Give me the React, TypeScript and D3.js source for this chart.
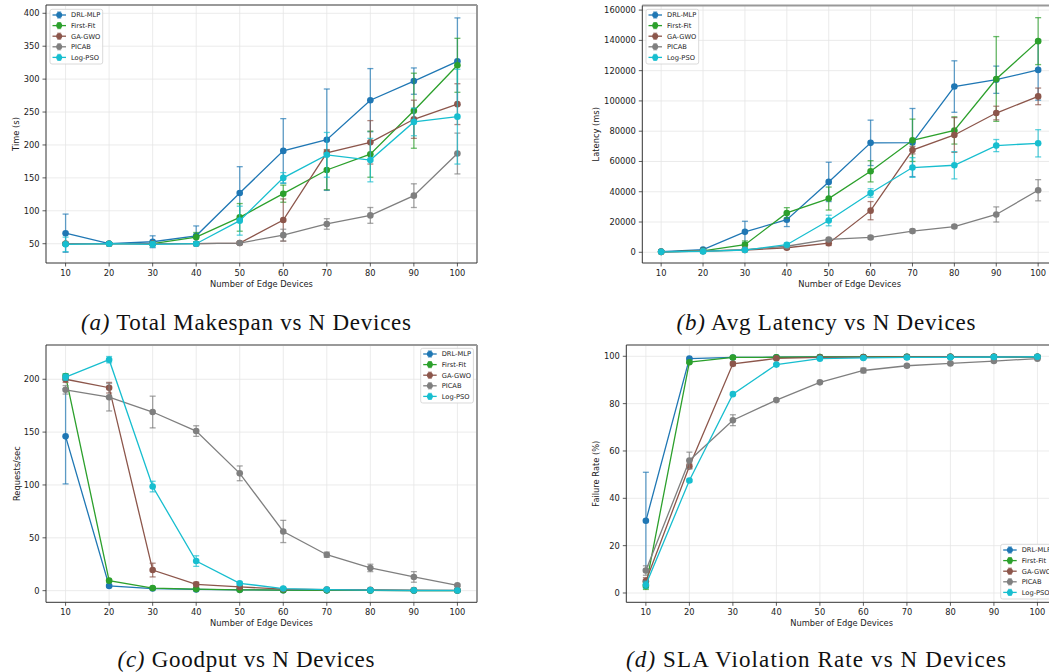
import React from "react";
import * as d3 from "d3";

const devices = [10, 20, 30, 40, 50, 60, 70, 80, 90, 100];
const seriesNames = ["DRL-MLP", "First-Fit", "GA-GWO", "PICAB", "Log-PSO"];
const seriesColors = ["#1f77b4", "#2ca02c", "#8c564b", "#7f7f7f", "#17becf"];

// (a) Total makespan (s)
const makespanMean = [
  [66, 50, 53, 62, 127, 191, 208, 268, 297, 327],
  [50, 50, 50, 60, 90, 126, 162, 186, 252, 321],
  [50, 50, 50, 50, 51, 86, 188, 204, 239, 262],
  [50, 50, 50, 50, 51, 63, 80, 93, 123, 187],
  [49, 50, 49, 50, 85, 150, 185, 177, 235, 243],
];
const makespanErr = [
  [29, 1, 9, 15, 40, 49, 77, 48, 20, 66],
  [1, 0.5, 2, 7, 21, 13, 30, 35, 57, 41],
  [1, 0.5, 1, 1, 2, 32, 5, 33, 29, 31],
  [1, 0.5, 1, 1, 2, 9, 8, 12, 18, 31],
  [11, 1, 4, 2, 22, 8, 34, 33, 21, 72],
];

// (b) Avg latency (ms)
const latencyMean = [
  [500, 1800, 13500, 21500, 46500, 72300, 72500, 109500, 114000, 120500],
  [300, 1000, 5000, 26000, 35500, 53500, 74000, 80500, 114500, 139500],
  [300, 800, 1500, 3000, 6000, 27500, 67500, 77500, 92000, 103000],
  [300, 800, 1800, 4000, 8500, 9800, 14000, 17000, 25000, 41000],
  [300, 600, 1500, 5000, 21000, 39200, 56000, 57500, 70500, 72000],
];
const latencyErr = [
  [200, 500, 7000, 4500, 13000, 15000, 22500, 17000, 9000, 20000],
  [100, 300, 2500, 3500, 7600, 7000, 14000, 9000, 28000, 15500],
  [100, 200, 500, 1000, 1500, 6000, 2500, 11500, 4500, 5500],
  [100, 200, 300, 500, 800, 1000, 1200, 1000, 5000, 7000],
  [100, 200, 300, 1000, 3500, 2800, 6500, 9000, 4000, 9000],
];

// (c) Goodput (requests/sec)
const goodputMean = [
  [146, 4.5, 2, 1.2, 0.8, 0.5, 0.3, 0.2, 0.1, 0.1],
  [203, 9.5, 2.5, 1.5, 0.8, 0.5, 0.3, 0.2, 0.1, 0.1],
  [200, 192, 19.5, 6, 3.5, 1.5, 1, 0.8, 0.5, 0.3],
  [190, 183, 169, 151, 111, 56, 34, 21.5, 13, 5],
  [202, 218.5, 98.5, 28, 7, 2, 1, 0.5, 0.3, 0.2],
];
const goodputErr = [
  [45, 1, 0.5, 0.3, 0.2, 0.1, 0.1, 0.1, 0.05, 0.05],
  [2, 1, 0.5, 0.3, 0.2, 0.1, 0.1, 0.1, 0.05, 0.05],
  [3, 5, 6.5, 2, 1, 0.5, 0.3, 0.2, 0.1, 0.1],
  [4, 13, 15, 5, 7, 10.5, 2.5, 3.5, 5, 1],
  [3, 3, 5, 5, 1, 0.5, 0.3, 0.2, 0.1, 0.1],
];

// (d) SLA violation / failure rate (%)
const slaMean = [
  [30.5, 99, 99.5, 99.6, 99.7, 99.7, 99.8, 99.8, 99.8, 99.8],
  [3, 97.5, 99.5, 99.6, 99.7, 99.7, 99.8, 99.8, 99.8, 99.8],
  [5, 53.5, 96.8, 99.1, 99.5, 99.6, 99.7, 99.8, 99.8, 99.8],
  [9.5, 56, 73, 81.5, 89, 94, 96, 97, 98, 99],
  [3.5, 47.5, 84, 96.5, 99, 99.3, 99.5, 99.6, 99.7, 99.8],
];
const slaErr = [
  [20.5, 0.3, 0.2, 0.2, 0.1, 0.1, 0.1, 0.1, 0.1, 0.1],
  [1.5, 0.5, 0.2, 0.2, 0.1, 0.1, 0.1, 0.1, 0.1, 0.1],
  [1.5, 1, 0.8, 0.3, 0.2, 0.1, 0.1, 0.1, 0.1, 0.1],
  [2, 3.5, 2.3, 0.5, 0.5, 1, 0.5, 0.4, 0.4, 0.3],
  [1.5, 0.5, 0.5, 0.4, 0.3, 0.2, 0.1, 0.1, 0.1, 0.1],
];

const makespanTicks = [50, 100, 150, 200, 250, 300, 350, 400];
const latencyTicks = [0, 20000, 40000, 60000, 80000, 100000, 120000, 140000, 160000];
const goodputTicks = [0, 50, 100, 150, 200];
const slaTicks = [0, 20, 40, 60, 80, 100];

const captions = [
  { tag: "(a)", text: " Total Makespan vs N Devices" },
  { tag: "(b)", text: " Avg Latency vs N Devices" },
  { tag: "(c)", text: " Goodput vs N Devices" },
  { tag: "(d)", text: " SLA Violation Rate vs N Devices" },
];

const SANS = "DejaVu Sans, sans-serif";
const FS = 8.3;

type PanelProps = {
  x0: number; x1: number; y0: number; y1: number;
  yDomain: [number, number];
  yTicks: number[];
  ylabel: string;
  ylabelX: number;
  means: number[][];
  errs: number[][];
  legend: { x: number; y: number };
};

function Panel(p: PanelProps) {
  const xs = d3.scaleLinear().domain([5.5, 104.5]).range([p.x0, p.x1]);
  const ys = d3.scaleLinear().domain(p.yDomain).range([p.y1, p.y0]);
  const line = d3.line<number>().x((_, i) => xs(devices[i])).y((v) => ys(v));
  const gridColor = "#e6e6e6";
  return (
    <g>
      {devices.map((d) => (
        <line key={"gx" + d} x1={xs(d)} x2={xs(d)} y1={p.y0} y2={p.y1} stroke={gridColor} strokeWidth={0.8} />
      ))}
      {p.yTicks.map((t) => (
        <line key={"gy" + t} x1={p.x0} x2={p.x1} y1={ys(t)} y2={ys(t)} stroke={gridColor} strokeWidth={0.8} />
      ))}
      {p.means.map((m, si) => {
        const c = seriesColors[si];
        return (
          <g key={si}>
            {m.map((v, i) => {
              const cx = xs(devices[i]);
              const yt = ys(v + p.errs[si][i]);
              const yb = ys(v - p.errs[si][i]);
              return (
                <g key={i} stroke={c} strokeOpacity={0.7} strokeWidth={1.3}>
                  <line x1={cx} x2={cx} y1={yt} y2={yb} />
                  <line x1={cx - 3} x2={cx + 3} y1={yt} y2={yt} />
                  <line x1={cx - 3} x2={cx + 3} y1={yb} y2={yb} />
                </g>
              );
            })}
            <path d={line(m) || ""} fill="none" stroke={c} strokeWidth={1.3} />
            {m.map((v, i) => (
              <circle key={"m" + i} cx={xs(devices[i])} cy={ys(v)} r={3.3} fill={c} />
            ))}
          </g>
        );
      })}
      <line x1={p.x0} x2={p.x1} y1={p.y0} y2={p.y0} stroke="#999" strokeWidth={2} />
      <line x1={p.x1} x2={p.x1} y1={p.y0} y2={p.y1} stroke="#999" strokeWidth={2} />
      <line x1={p.x0} x2={p.x0} y1={p.y0} y2={p.y1} stroke="#333" strokeWidth={1} />
      <line x1={p.x0} x2={p.x1} y1={p.y1} y2={p.y1} stroke="#333" strokeWidth={1} />
      {devices.map((d) => (
        <g key={"tx" + d}>
          <line x1={xs(d)} x2={xs(d)} y1={p.y1} y2={p.y1 + 3.5} stroke="#333" strokeWidth={0.8} />
          <text x={xs(d)} y={p.y1 + 12.8} textAnchor="middle" fontSize={FS} fontFamily={SANS} fill="#222">{d}</text>
        </g>
      ))}
      {p.yTicks.map((t) => (
        <g key={"ty" + t}>
          <line x1={p.x0 - 3.5} x2={p.x0} y1={ys(t)} y2={ys(t)} stroke="#333" strokeWidth={0.8} />
          <text x={p.x0 - 6.5} y={ys(t) + 3} textAnchor="end" fontSize={FS} fontFamily={SANS} fill="#222">{t}</text>
        </g>
      ))}
      <text x={xs(55)} y={p.y1 + 24} textAnchor="middle" fontSize={FS} fontFamily={SANS} fill="#222">Number of Edge Devices</text>
      <text transform={`translate(${p.ylabelX + 3},${(p.y0 + p.y1) / 2}) rotate(-90)`} textAnchor="middle" fontSize={FS} fontFamily={SANS} fill="#222">{p.ylabel}</text>
      <g transform={`translate(${p.legend.x},${p.legend.y})`}>
        <rect x={0} y={0} width={52.7} height={54.7} rx={2} fill="#fff" fillOpacity={0.85} stroke="#d0d0d0" strokeWidth={0.8} />
        {seriesNames.map((n, i) => {
          const yy = 5.7 + i * 10.6;
          const c = seriesColors[i];
          return (
            <g key={n}>
              <line x1={2.5} x2={16} y1={yy} y2={yy} stroke={c} strokeWidth={1.3} />
              <line x1={9.2} x2={9.2} y1={yy - 3} y2={yy + 3} stroke={c} strokeWidth={1.2} strokeOpacity={0.7} />
              <line x1={7.2} x2={11.2} y1={yy - 3} y2={yy - 3} stroke={c} strokeWidth={1.2} strokeOpacity={0.7} />
              <line x1={7.2} x2={11.2} y1={yy + 3} y2={yy + 3} stroke={c} strokeWidth={1.2} strokeOpacity={0.7} />
              <circle cx={9.2} cy={yy} r={3} fill={c} />
              <text x={21} y={yy + 2.4} fontSize={6.7} fontFamily={SANS} fill="#222">{n}</text>
            </g>
          );
        })}
      </g>
    </g>
  );
}

function Caption({ cx, y, idx, width }: { cx: number; y: number; idx: number; width: number }) {
  const c = captions[idx];
  return (
    <text x={cx} y={y} textAnchor="middle" fontSize={23} fontFamily="Liberation Serif, serif" fill="#111"
      textLength={width} lengthAdjust="spacing">
      <tspan fontStyle="italic">{c.tag}</tspan>
      <tspan>{c.text}</tspan>
    </text>
  );
}

export default function App() {
  return (
    <svg width={1049} height={672} style={{ position: "absolute", left: 0, top: 0, background: "#fff" }}>
      <rect x={0} y={0} width={1049} height={672} fill="#fff" />
      <Panel x0={46} x1={477} y0={5} y1={263} yDomain={[20.7, 412.6]} yTicks={makespanTicks}
        ylabel="Time (s)" ylabelX={15.7} means={makespanMean} errs={makespanErr} legend={{ x: 50, y: 9.3 }} />
      <Panel x0={642.3} x1={1057} y0={5.5} y1={263} yDomain={[-7074, 163040]} yTicks={latencyTicks}
        ylabel="Latency (ms)" ylabelX={596} means={latencyMean} errs={latencyErr} legend={{ x: 646, y: 9.3 }} />
      <Panel x0={46} x1={477} y0={345} y1={602.3} yDomain={[-11, 232.4]} yTicks={goodputTicks}
        ylabel="Requests/sec" ylabelX={16.7} means={goodputMean} errs={goodputErr} legend={{ x: 420.7, y: 348.3 }} />
      <Panel x0={626.3} x1={1057} y0={345} y1={602.3} yDomain={[-3.93, 104.77]} yTicks={slaTicks}
        ylabel="Failure Rate (%)" ylabelX={596} means={slaMean} errs={slaErr} legend={{ x: 1000.7, y: 544.3 }} />
      <Caption cx={246} y={330} idx={0} width={330} />
      <Caption cx={826} y={330} idx={1} width={299} />
      <Caption cx={246} y={667} idx={2} width={257} />
      <Caption cx={816} y={667} idx={3} width={380} />
    </svg>
  );
}
